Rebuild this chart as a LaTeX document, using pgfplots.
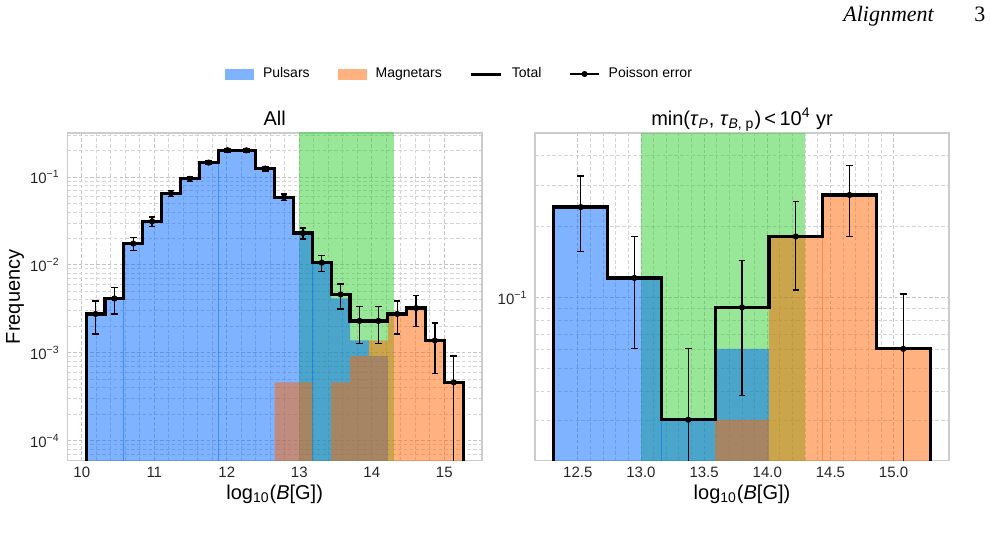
\documentclass[border=0pt]{standalone}
\usepackage{fontspec}
\setmainfont{Liberation Sans}
\newfontfamily\headfont{Liberation Serif}
\usepackage{pgfplots}
\usepackage{pgfplotstable}
\pgfplotsset{compat=1.18}

\definecolor{pulsar}{RGB}{0,102,255}
\definecolor{magnetar}{RGB}{255,102,0}
\definecolor{band}{RGB}{50,205,50}
\definecolor{gridc}{RGB}{196,196,196}
\definecolor{gridm}{RGB}{212,212,212}
\definecolor{framec}{RGB}{204,204,204}

% ---------- All sources: 20 bins in log10 B ----------
% step outlines: left bin edge, frequency (last row closes the final bin)
\pgfplotstableread{
x      y
10.06  1e-7
10.06  0.002762
10.32  0.004144
10.58  0.017495
10.84  0.031308
11.10  0.065378
11.36  0.095304
11.62  0.145948
11.88  0.202118
12.14  0.201197
12.40  0.124770
12.66  0.058932
12.92  0.023020
13.18  0.010589
13.44  0.004604
13.70  0.002302
13.96  0.002302
14.22  0.002762
14.48  0.003223
14.74  0.001381
15.00  0.000460
15.26  0.000460
15.26  1e-7
}\allTotal

\pgfplotstableread{
x      y
10.06  1e-7
10.06  0.002762
10.32  0.004144
10.58  0.017495
10.84  0.031308
11.10  0.065378
11.36  0.095304
11.62  0.145948
11.88  0.202118
12.14  0.201197
12.40  0.124770
12.66  0.058471
12.92  0.022560
13.18  0.010589
13.44  0.004144
13.70  0.001381
13.96  0.000921
14.22  1e-7
14.48  1e-7
14.74  1e-7
15.00  1e-7
15.26  1e-7
15.26  1e-7
}\allPulsar

\pgfplotstableread{
x      y
10.06  1e-7
10.06  1e-7
10.32  1e-7
10.58  1e-7
10.84  1e-7
11.10  1e-7
11.36  1e-7
11.62  1e-7
11.88  1e-7
12.14  1e-7
12.40  1e-7
12.66  0.000460
12.92  0.000460
13.18  1e-7
13.44  0.000460
13.70  0.000921
13.96  0.001381
14.22  0.002762
14.48  0.003223
14.74  0.001381
15.00  0.000460
15.26  0.000460
15.26  1e-7
}\allMagnetar

% bin centre, frequency, Poisson error (plus / minus)
\pgfplotstableread{
x      y         ep        em
10.19  0.002762  0.001128  0.001128
10.45  0.004144  0.001381  0.001381
10.71  0.017495  0.002838  0.002838
10.97  0.031308  0.003797  0.003797
11.23  0.065378  0.005486  0.005486
11.49  0.095304  0.006624  0.006624
11.75  0.145948  0.008197  0.008197
12.01  0.202118  0.009647  0.009647
12.27  0.201197  0.009625  0.009625
12.53  0.124770  0.007579  0.007579
12.79  0.058932  0.005209  0.005209
13.05  0.023020  0.003256  0.003256
13.31  0.010589  0.002208  0.002208
13.57  0.004604  0.001456  0.001456
13.83  0.002302  0.001029  0.001029
14.09  0.002302  0.001029  0.001029
14.35  0.002762  0.001128  0.001128
14.61  0.003223  0.001218  0.001218
14.87  0.001381  0.000797  0.000797
15.13  0.000460  0.000460  0.0004595
}\allErr

% ---------- young sources: 7 bins ----------
\pgfplotstableread{
x       y
12.310  1e-7
12.310  0.242424
12.736  0.121212
13.161  0.030303
13.587  0.090909
14.013  0.181818
14.439  0.272727
14.864  0.060606
15.290  0.060606
15.290  1e-7
}\youngTotal

\pgfplotstableread{
x       y
12.310  1e-7
12.310  0.242424
12.736  0.121212
13.161  0.030303
13.587  0.060606
14.013  1e-7
14.439  1e-7
14.864  1e-7
15.290  1e-7
15.290  1e-7
}\youngPulsar

\pgfplotstableread{
x       y
12.310  1e-7
12.310  1e-7
12.736  1e-7
13.161  1e-7
13.587  0.030303
14.013  0.181818
14.439  0.272727
14.864  0.060606
15.290  0.060606
15.290  1e-7
}\youngMagnetar

\pgfplotstableread{
x       y         ep        em
12.523  0.242424  0.085710  0.085710
12.948  0.121212  0.060606  0.060606
13.374  0.030303  0.030303  0.030273
13.800  0.090909  0.052486  0.052486
14.226  0.181818  0.074227  0.074227
14.651  0.272727  0.090909  0.090909
15.077  0.060606  0.042855  0.042855
}\youngErr

\pgfplotsset{
  panel/.style={
    scale only axis,
    width=207.35pt, height=163.85pt,
    anchor=south west,
    clip marker paths=true,
    grid=both,
    major grid style={gridc, line width=0.45pt, dash pattern=on 1.8pt off 1.1pt},
    minor grid style={gridm, line width=0.4pt, dash pattern=on 1.8pt off 1.1pt},
    major tick length=0pt, minor tick length=0pt,
    axis line style={framec, line width=0.75pt},
    tick label style={font=\fontsize{7.5}{9}\selectfont, text=black!85},
    xticklabel style={anchor=base, yshift=-8.6pt},
    yticklabel style={anchor=east, inner sep=0pt, xshift=-3.6pt},
    label style={font=\fontsize{10}{12}\selectfont},
    every axis title shift=0pt,
    title style={at={(axis description cs:0.5,1.024)}, anchor=base, font=\fontsize{10}{12}\selectfont},
    xlabel style={at={(axis description cs:0.5,-0.1016)}, anchor=center},
    xlabel={log\textsubscript{10}(\textit{B}[G])},
  },
  bandfill/.style={draw=none, fill=band, fill opacity=0.5, forget plot},
  pfill/.style={draw=none, fill=pulsar, fill opacity=0.5, const plot, forget plot},
  mfill/.style={draw=none, fill=magnetar, fill opacity=0.5, const plot, forget plot},
  pseam/.style={pulsar, opacity=0.5, line width=0.5pt, forget plot},
  mseam/.style={magnetar, opacity=0.5, line width=0.5pt, forget plot},
  totalstep/.style={black, line width=1.6pt, const plot, no marks, forget plot},
}

\begin{document}
\begin{tikzpicture}
\path[use as bounding box] (0pt,0pt) rectangle (495pt,268.5pt);

\node[anchor=base west, inner sep=0pt, font=\headfont\itshape\fontsize{11}{13}\selectfont] at (421.5pt,257.6pt) {Alignment};
\node[anchor=base west, inner sep=0pt, font=\headfont\fontsize{11}{13}\selectfont] at (487pt,257.6pt) {3};

% ---------------- left panel: all sources ----------------
\begin{axis}[panel,
  ymode=log,
  at={(33.65pt,38.15pt)},
  xmin=9.80, xmax=15.52,
  ymin=5.9e-5, ymax=0.317,
  xtick={10,11,12,13,14,15},
  xticklabels={10,11,12,13,14,15},
  minor x tick num=4,
  ytick={1e-4,1e-3,1e-2,1e-1},
  yticklabels={10\textsuperscript{−4},10\textsuperscript{−3},10\textsuperscript{−2},10\textsuperscript{−1}},
  minor ytick={7e-5,8e-5,9e-5,2e-4,3e-4,4e-4,5e-4,6e-4,7e-4,8e-4,9e-4,2e-3,3e-3,4e-3,5e-3,6e-3,7e-3,8e-3,9e-3,2e-2,3e-2,4e-2,5e-2,6e-2,7e-2,8e-2,9e-2,0.2,0.3},
  title={All},
  ylabel={Frequency},
  ylabel style={at={(axis description cs:-0.126,0.5)}, anchor=center},
  legend columns=4,
  legend cell align=left,
  legend style={at={(axis description cs:0.9433,1.18)}, anchor=center,
    draw=none, fill=none, inner sep=0pt,
    font=\fontsize{7}{8.4}\selectfont,
    nodes={inner sep=0pt},
    /tikz/every odd column/.append style={column sep=4.5pt},
    /tikz/every even column/.append style={column sep=14pt}},
]
\addplot[bandfill] coordinates {(13.0,1e-7) (13.0,10) (14.3,10) (14.3,1e-7)};
\addplot[pfill] table[x=x,y=y] {\allPulsar};
\addplot[pseam] coordinates {(10.58,1e-7) (10.58,0.004144)};
\addplot[pseam] coordinates {(11.88,1e-7) (11.88,0.145948)};
\addplot[pseam] coordinates {(13.18,1e-7) (13.18,0.010589)};
\addplot[mfill] table[x=x,y=y] {\allMagnetar};
\addplot[totalstep] table[x=x,y=y] {\allTotal};
\addplot[black, only marks, mark=*, mark size=1.33pt, forget plot,
  error bars/.cd, y dir=both, y explicit,
  error bar style={black, line width=0.65pt},
  error mark options={rotate=90, mark size=1.65pt, line width=0.65pt, black}]
  table[x=x,y=y,y error plus=ep,y error minus=em] {\allErr};

\addlegendimage{legend image code/.code={\fill[pulsar, fill opacity=0.5, draw=none] (0pt,-2.75pt) rectangle (14.5pt,2.75pt);}}
\addlegendentry{Pulsars}
\addlegendimage{legend image code/.code={\fill[magnetar, fill opacity=0.5, draw=none] (0pt,-2.75pt) rectangle (14.5pt,2.75pt);}}
\addlegendentry{Magnetars}
\addlegendimage{legend image code/.code={\draw[black, line width=1.5pt] (0pt,0pt) -- (15pt,0pt);}}
\addlegendentry{Total}
\addlegendimage{legend image code/.code={\draw[black, line width=0.65pt] (0pt,0pt) -- (14.5pt,0pt); \fill[black] (7.25pt,0pt) circle (1.3pt);}}
\addlegendentry{Poisson error}
\end{axis}

% ---------------- right panel: young sources ----------------
\begin{axis}[panel,
  ymode=log,
  at={(267.5pt,38.15pt)},
  width=207pt,
  xmin=12.161, xmax=15.439,
  ymin=0.0203, ymax=0.50,
  xtick={12.5,13.0,13.5,14.0,14.5,15.0},
  xticklabels={12.5,13.0,13.5,14.0,14.5,15.0},
  minor x tick num=4,
  ytick={0.1},
  yticklabels={10\textsuperscript{−1}},
  minor ytick={0.03,0.04,0.05,0.06,0.07,0.08,0.09,0.2,0.3,0.4},
  title={min(\textit{τ}\textsubscript{\textit{P}}, \textit{τ}\textsubscript{\textit{B}, p})\,<\,10\textsuperscript{4} yr},
]
\addplot[bandfill] coordinates {(13.0,1e-7) (13.0,10) (14.3,10) (14.3,1e-7)};
\addplot[pfill] table[x=x,y=y] {\youngPulsar};
\addplot[pseam] coordinates {(13.161,1e-7) (13.161,0.030303)};
\addplot[mfill] table[x=x,y=y] {\youngMagnetar};
\addplot[mseam] coordinates {(14.439,1e-7) (14.439,0.181818)};
\addplot[totalstep] table[x=x,y=y] {\youngTotal};
\addplot[black, only marks, mark=*, mark size=1.33pt, forget plot,
  error bars/.cd, y dir=both, y explicit,
  error bar style={black, line width=0.65pt},
  error mark options={rotate=90, mark size=1.65pt, line width=0.65pt, black}]
  table[x=x,y=y,y error plus=ep,y error minus=em] {\youngErr};
\end{axis}
\end{tikzpicture}
\end{document}
